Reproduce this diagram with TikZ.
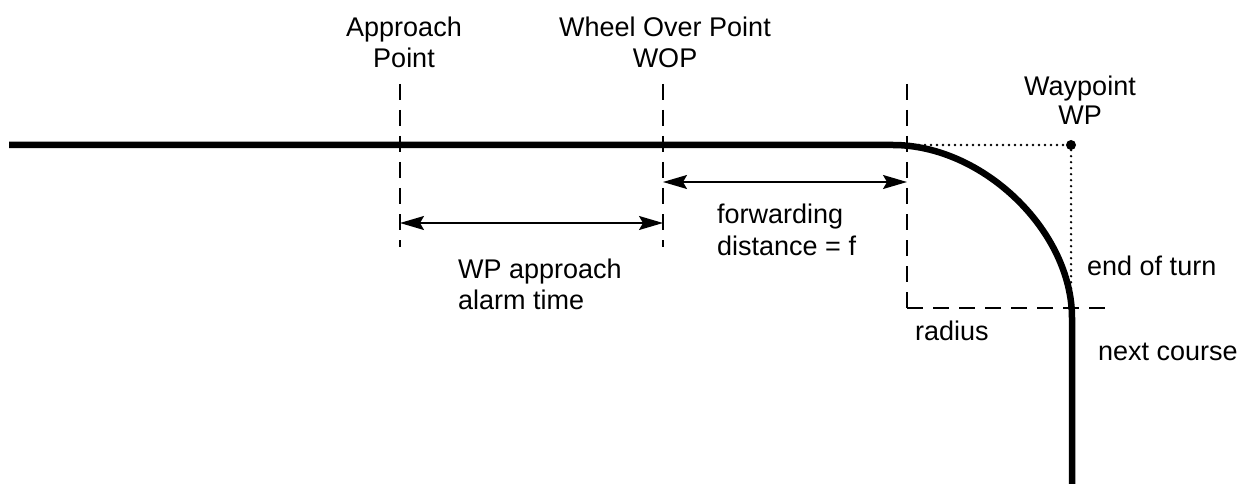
\documentclass[tikz,border=0pt]{standalone}
\usepackage{fontspec}
\setmainfont{Liberation Sans}
\usetikzlibrary{arrows.meta}
\begin{document}
\begin{tikzpicture}[x=1pt,y=-1pt,
  lbl/.style={font=\fontsize{27}{31}\selectfont, inner sep=0pt},
  course/.style={line width=6.5pt},
  guide/.style={line width=1.8pt, dash pattern=on 16pt off 10pt},
  aux/.style={line width=2.6pt, line cap=round, dash pattern=on 0pt off 6pt},
  dim/.style={line width=1.5pt, {Stealth[length=24pt,width=14pt,inset=4pt]}-{Stealth[length=24pt,width=14pt,inset=4pt]}},
  wpdot/.style={circle, fill=black, inner sep=0pt, minimum size=10pt}
]
\useasboundingbox (0,0) rectangle (1251,484);

% course line
\coordinate (start) at (9,145);
\coordinate (tstart) at (893,145);
\coordinate (tend) at (1072,318);
\coordinate (finish) at (1072,490);
\draw[course] (start) -- (tstart) .. controls +(90,0) and +(0,-87) .. (tend) -- (finish);

% guide (dashed) lines
\coordinate (apT) at (400,84);
\coordinate (apB) at (400,247);
\coordinate (woT) at (663,84);
\coordinate (woB) at (663,247);
\coordinate (tsT) at (907,84);
\coordinate (corner) at (907,308);
\coordinate (hR) at (1112,308);
\draw[guide] (apT) -- (apB);
\draw[guide] (woT) -- (woB);
\draw[guide] (tsT) -- (corner);
\draw[guide] (corner) -- (hR);

% waypoint and dotted lines
\node[wpdot] (wp) at (1071,145) {};
\coordinate (tsTop) at (907,145);
\coordinate (wpDown) at (1071,308);
\draw[aux] (tsTop) -- (wp);
\draw[aux] (wp) -- (wpDown);

% dimension arrows
\coordinate (apA) at (400,223);
\coordinate (woA) at (663,223);
\coordinate (woF) at (663,182);
\coordinate (tsF) at (907,182);
\draw[dim] (apA) -- (woA);
\draw[dim] (woF) -- (tsF);

% labels
\node[lbl, anchor=base] (ap1) at (404,37) {Approach};
\node[lbl, anchor=base] (ap2) at (404,68) {Point};
\node[lbl, anchor=base] (wo1) at (665,37) {Wheel Over Point};
\node[lbl, anchor=base] (wo2) at (665,68) {WOP};
\node[lbl, anchor=base] (wp1) at (1080,96) {Waypoint};
\node[lbl, anchor=base] (wp2) at (1080,125) {WP};
\node[lbl, anchor=base west] (al1) at (458,278) {WP approach};
\node[lbl, anchor=base west] (al2) at (458,309) {alarm time};
\node[lbl, anchor=base west] (fw1) at (717,223) {forwarding};
\node[lbl, anchor=base west] (fw2) at (717,255) {distance = f};
\node[lbl, anchor=base west] (eot) at (1087,275) {end of turn};
\node[lbl, anchor=base west] (rad) at (915,340) {radius};
\node[lbl, anchor=base west] (nc) at (1098,360) {next course};
\end{tikzpicture}
\end{document}
